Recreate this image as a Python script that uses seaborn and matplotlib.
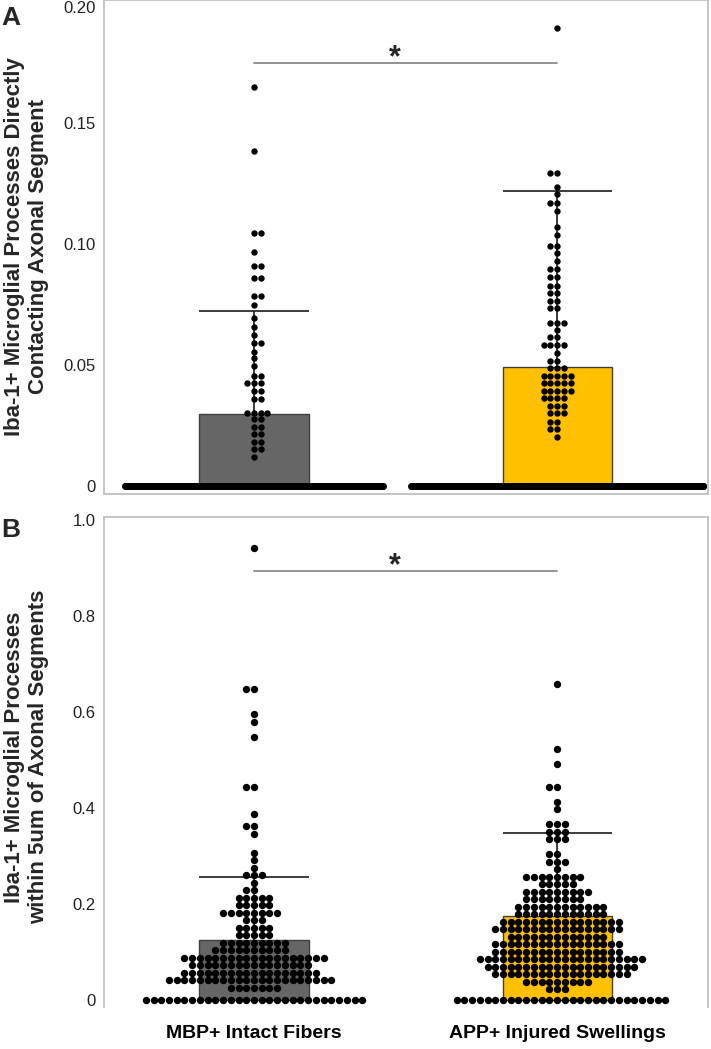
import numpy as np
import pandas as pd
import matplotlib
matplotlib.use('Agg')
import matplotlib.pyplot as plt
import matplotlib.transforms as mtransforms
import seaborn as sns

sns.set_style('white')
plt.rcParams['font.family'] = ['Liberation Sans', 'DejaVu Sans']
np.random.seed(3)

groups = ['MBP+ Intact Fibers', 'APP+ Injured Swellings']
bar_colors = ['#666666', '#FFC000']

# summary values (mean, mean + SD)
a_means = [0.0298, 0.0490]
a_upper = [0.0723, 0.1220]
b_means = [0.125, 0.175]
b_upper = [0.256, 0.348]

# panel A: non-zero values (value, how many dots in that row)
a_mbp_vals = [0.1648, 0.1386, 0.1047, 0.0966, 0.0909, 0.0858, 0.0785, 0.0748, 0.0693,
              0.0658, 0.0624, 0.0590, 0.0555, 0.0528, 0.0496, 0.0455, 0.0424, 0.0393,
              0.0358, 0.0303, 0.0276, 0.0245, 0.0215, 0.0183, 0.0153, 0.0120]
a_mbp_counts = [1, 1, 2, 1, 2, 2, 2, 1, 1,
                1, 1, 2, 1, 1, 1, 2, 3, 2,
                2, 4, 2, 2, 2, 2, 2, 1]
a_app_vals = [0.1891, 0.1295, 0.1237, 0.1207, 0.1171, 0.1138, 0.1069, 0.1037, 0.0992,
              0.0962, 0.0931, 0.0895, 0.0862, 0.0828, 0.0796, 0.0766, 0.0734, 0.0675,
              0.0645, 0.0614, 0.0583, 0.0551, 0.0518, 0.0486, 0.0455, 0.0424, 0.0394,
              0.0362, 0.0331, 0.0300, 0.0266, 0.0234, 0.0204]
a_app_counts = [1, 2, 1, 1, 2, 1, 1, 1, 2,
                1, 1, 2, 2, 2, 2, 2, 2, 3,
                1, 2, 4, 1, 2, 3, 5, 5, 5,
                4, 3, 3, 2, 2, 1]
# segments with no contact (value 0), drawn as a dense band
a_zero_counts = [900, 1100]

# panel B
b_mbp_vals = [0.942, 0.648, 0.595, 0.579, 0.548, 0.444, 0.388, 0.362, 0.346, 0.3068,
              0.2912, 0.2756, 0.2600, 0.2444, 0.2288, 0.2132, 0.1976, 0.1820, 0.1664,
              0.1508, 0.1352, 0.1196, 0.1040, 0.0884, 0.0728, 0.0572, 0.0416, 0.0260, 0.0]
b_mbp_counts = [1, 2, 1, 1, 1, 2, 1, 2, 1, 1,
                1, 1, 3, 1, 2, 5, 5, 8, 3,
                5, 5, 9, 10, 19, 16, 18, 22, 7, 29]
b_app_vals = [0.658, 0.523, 0.492, 0.4442, 0.4130, 0.3974, 0.3662, 0.3506, 0.3350,
              0.3038, 0.2882, 0.2726, 0.2570, 0.2414, 0.2258, 0.2102, 0.1946, 0.1790,
              0.1634, 0.1478, 0.1322, 0.1166, 0.1010, 0.0854, 0.0698, 0.0542, 0.0386,
              0.0230, 0.0]
b_app_counts = [1, 1, 1, 2, 1, 1, 3, 3, 3,
                2, 3, 1, 8, 5, 9, 8, 12, 12,
                16, 17, 13, 17, 17, 22, 20, 18, 9,
                3, 28]


def make_df(mbp_vals, mbp_counts, app_vals, app_counts):
    v1 = np.repeat(mbp_vals, mbp_counts)
    v2 = np.repeat(app_vals, app_counts)
    return pd.DataFrame({'group': [groups[0]] * len(v1) + [groups[1]] * len(v2),
                         'value': np.concatenate([v1, v2])})


df_a = make_df(a_mbp_vals, a_mbp_counts, a_app_vals, a_app_counts)
df_b = make_df(b_mbp_vals, b_mbp_counts, b_app_vals, b_app_counts)

fig = plt.figure(figsize=(7.11, 10.49), dpi=100)
ax_a = fig.add_axes([0.1463, 0.5291, 0.8495, 0.4709])
ax_b = fig.add_axes([0.1463, 0.0400, 0.8495, 0.4671])


def draw_panel(ax, df, means, upper, dot_size, ylim, ticks, ticklabels, ylabel,
               label_y, sig_y, star_y):
    sns.barplot(x=groups, y=means, hue=groups, palette=bar_colors, order=groups,
                width=0.36, edgecolor='#404040', linewidth=1, errorbar=None,
                saturation=1, legend=False, ax=ax, zorder=1)
    ax.vlines([0, 1], means, upper, color='#1a1a1a', lw=1.2, zorder=2)
    ax.hlines(upper, [-0.18, 0.82], [0.18, 1.18], color='#1a1a1a', lw=1.2, zorder=2)
    sns.swarmplot(data=df, x='group', y='value', order=groups, color='black',
                  size=dot_size, linewidth=0, ax=ax, zorder=3)
    ax.plot([0, 1], [sig_y, sig_y], color='#7f7f7f', lw=1.2)
    ax.text(0.465, star_y, '*', ha='center', va='center', fontsize=22,
            fontweight='bold')
    ax.set_xlim(-0.495, 1.498)
    ax.set_ylim(*ylim)
    ax.set_yticks(ticks)
    ax.set_yticklabels(ticklabels)
    ax.tick_params(length=0, labelsize=12, colors='#222222', pad=6)
    ax.set_xlabel('')
    ax.set_ylabel(ylabel, fontsize=16, fontweight='bold', linespacing=1.2)
    ax.yaxis.set_label_coords(-0.091, label_y)
    for sp in ax.spines.values():
        sp.set_color('#c0c0c0')
        sp.set_linewidth(1.3)


draw_panel(ax_a, df_a, a_means, a_upper, 4.6, (-0.0033, 0.2008),
           [0, 0.05, 0.10, 0.15, 0.20], ['0', '0.05', '0.10', '0.15', '0.20'],
           'Iba-1+ Microglial Processes Directly\nContacting Axonal Segment',
           0.5, 0.1747, 0.1767)
# zero band in panel A
for grp, n_zero, jit in zip(groups, a_zero_counts, [0.425, 0.485]):
    zdf = pd.DataFrame({'group': [grp] * n_zero, 'value': np.zeros(n_zero)})
    sns.stripplot(data=zdf, x='group', y='value', order=groups, color='black',
                  size=5.0, linewidth=0, jitter=jit, ax=ax_a, zorder=3)
ax_a.set_xlim(-0.495, 1.498)
ax_a.set_xlabel('')
ax_a.tick_params(axis='x', labelbottom=False)
top_lbl = ax_a.get_yticklabels()[-1]
top_lbl.set_transform(top_lbl.get_transform() +
                      mtransforms.ScaledTranslation(0, -4 / 72, fig.dpi_scale_trans))

draw_panel(ax_b, df_b, b_means, b_upper, 5.3, (-0.0146, 1.0063),
           [0, 0.2, 0.4, 0.6, 0.8, 1.0], ['0', '0.2', '0.4', '0.6', '0.8', '1.0'],
           'Iba-1+ Microglial Processes\nwithin 5um of Axonal Segments',
           0.51, 0.894, 0.9045)
ax_b.spines['bottom'].set_visible(False)
ax_b.tick_params(axis='x', pad=13)
for lbl in ax_b.get_xticklabels():
    lbl.set_fontsize(14)
    lbl.set_fontweight('bold')
    lbl.set_color('black')

fig.text(0.002, 0.994, 'A', fontsize=19, fontweight='bold', va='top')
fig.text(0.002, 0.506, 'B', fontsize=19, fontweight='bold', va='top')

fig.savefig('out.png', dpi=100)
